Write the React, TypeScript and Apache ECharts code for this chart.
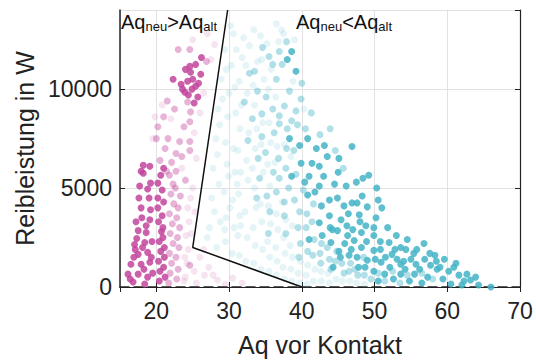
import React, { useEffect, useRef } from "react";
import * as echarts from "echarts";

// Aq vor Kontakt (x), Reibleistung in W (y)
const leftStrong: number[][] = [
  [16.1,650],[16.5,1150],[16.8,250],[17.0,2150],[17.5,1650],[17.5,650],[17.5,2850],[17.9,1150],[17.9,4000],[17.7,5100],
  [17.9,5850],[18.4,150],[18.4,2250],[18.6,2750],[18.8,500],[18.8,1750],[18.8,4950],[19.1,1250],[19.1,3400],[19.2,3900],
  [19.2,5250],[18.2,6150],[19.1,6100],[18.2,5750],[16.9,1500],[17.3,2450],[17.2,3300],[18.0,3500],[18.3,900],[16.4,400],
  [17.1,1900],[18.6,3100],[19.4,2300],[19.5,700],[19.0,4500],[17.6,4500],[19.3,1500],[18.1,2000],
  [20.2,5250],[20.2,4500],[20.2,4000],[21.0,6000],[20.6,5650],[20.4,300],[20.5,800],[20.3,1300],[20.6,1800],[20.4,2300],
  [20.7,2800],[20.3,3300],[20.8,3600],[21.0,1000],[21.1,2000],[20.9,3000],[21.0,4300],[20.8,4900],[21.2,500],[21.1,1500],[20.9,2500],
  [24.6,11150],[25.4,11250],[24.7,10850],[26.1,10750],[24.3,10400],[25.4,10150],[23.9,9850],[25.7,9600],[22.3,10500],[23.4,10250],
  [24.9,10000],[25.0,10500],[24.4,9700],[25.8,10300],[24.0,11000],[23.6,10000],[26.2,11600],[25.2,9300]
];
const leftMid: number[][] = [
  [20.2,8100],[22.5,9000],[24.3,9350],[24.7,8850],[24.6,8350],[21.6,7500],[23.2,7350],[24.6,7350],[21.2,7000],[22.7,6750],
  [24.6,6900],[21.8,5650],[22.7,5850],[21.4,5850],
  [21.7,200],[21.9,700],[22.1,1200],[21.8,1700],[22.3,2200],[21.9,2700],[22.2,3200],[21.8,3700],[22.4,4200],[22.0,4700],
  [22.3,5200],[22.8,400],[23.0,900],[22.7,1500],[23.1,2000],[22.9,2500],[23.2,3000],[22.8,3500],[23.0,4000],[23.3,4600],
  [22.6,5000],[24.6,1100],[26.9,11400],[24.6,12000],
  [20.0,7500],[21.0,8600],[23.8,8100],[22.1,6300],[23.5,6600],[24.0,5400],[21.5,9400],[23.0,12000],[20.5,6400]
];
const leftFaint: number[][] = [
  [24.0,500],[24.2,1200],[24.4,1900],[24.1,2600],[24.5,3300],[24.3,4000],[26.6,600],[28.4,350],[25.5,200],[27.2,1000],
  [29.5,150],[30.5,450],[31.8,200],[26.0,1500],[28.0,12250],[23.5,6000],[22.0,8500],[25.0,5000],[25.2,7800],[19.5,7500],
  [23.8,300],[23.9,1500],[24.8,2700],[25.2,800],[26.5,1900],[27.8,600],[24.7,4500],[25.3,3800],[25.5,6500],[26.0,8800],
  [26.5,9800],[27.5,11500],[27.0,12800],[25.0,12500],[20.8,9200],[19.8,8600]
];
const rightFaint: number[][] = [
  [27.3,3000],[27.6,4500],[27.8,6000],[28.2,7500],[28.5,9000],[28.9,10500],[29.4,12000],[28.6,5200],[28.0,3800],[27.0,2500],
  [29.5,2300],[29.6,3500],[29.3,4800],[29.7,6200],[29.5,7300],[29.8,8600],[30.0,9800],[30.3,11200],[30.6,12800],[29.9,5600],
  [30.1,4000],[29.4,2900],[31.4,1600],[31.2,2600],[31.5,3600],[31.3,4700],[31.6,5800],[31.2,6900],[31.5,8000],[31.7,9200],
  [31.4,10400],[31.8,11600],[32.0,12600],[31.6,3100],[31.1,5200],[33.4,1200],[33.6,2100],[33.3,3000],[33.7,4000],[33.5,5000],
  [33.2,6000],[33.6,7000],[33.8,8000],[33.4,13000],[33.5,9200],[33.3,10200],[33.9,11400],[35.5,800],[35.6,1500],[35.3,2300],
  [35.7,3200],[35.4,4100],[35.6,5100],[35.3,6200],[35.7,7300],[35.5,8300],[35.4,10000],[35.8,11000],[35.2,12300],[37.6,400],
  [37.4,1000],[37.7,1700],[37.5,2500],[37.8,3400],[37.3,4300],[37.6,7200],[37.5,12800],[39.7,200],[39.5,700],[39.8,1300],
  [41.6,300],[41.8,900],[43.8,200],[43.6,700],[45.6,300],[47.5,200],[40.0,13500],[36.5,13300],
  [28.3,2000],[28.8,3300],[28.4,6700],[28.7,8200],[29.1,9500],[29.6,11000],[30.2,13200],[30.4,1700],[30.7,3000],[30.5,4400],
  [30.8,5800],[30.6,7000],[30.9,8800],[30.8,10100],[31.0,12000],[32.3,1300],[32.5,2500],[32.2,3800],[32.6,5400],[32.4,6400],
  [32.7,7800],[32.5,9800],[32.3,11200],[32.8,12200],[34.4,900],[34.6,1900],[34.5,3300],[34.3,4200],[34.7,5800],[34.4,7200],
  [34.6,8300],[34.8,10500],[34.5,11500],[34.3,12700],[36.5,600],[36.6,1300],[36.4,2000],[36.7,2900],[36.5,3700],[36.3,6300],
  [36.6,7100],[36.4,9600],[36.8,12400],[38.6,300],[38.5,900],[38.7,1500],[38.4,2100],[38.7,3100],[38.5,6600],[38.8,10400],
  [37.2,13000],[40.7,150],[40.6,600],[40.8,1100],[42.7,300],[42.6,800],[44.7,400],[46.6,300],[48.6,150],[39.0,12500],[40.3,9000]
];
const rightMid: number[][] = [
  [36.9,11900],[35.5,11650],[37.3,11250],[36.0,11250],[33.5,10900],[34.6,12100],[33.9,9900],[38.3,9900],[39.9,9500],[35.1,9600],
  [36.5,10500],[32.1,9350],[37.6,9150],[39.2,8900],[36.0,9000],[34.5,8750],[36.9,8650],[33.2,8500],[38.6,8400],[36.9,8250],
  [34.5,7600],[36.2,7800],[35.0,6800],[36.8,6500],[37.9,7000],[34.2,5500],[36.1,5800],[36.9,5500],[37.8,6000],[35.2,4600],
  [36.5,4800],[37.6,4300],[38.2,5000],[39.0,4400],[39.7,3800],[39.5,3000],[39.8,2200],[39.6,1500],[41.4,3300],[41.7,2400],
  [41.5,1600],[41.6,4200],[43.8,1400],[43.5,2000],[44.0,900],[45.5,1200],[45.8,700],[47.3,900],[47.7,600],[49.5,400],
  [51.4,300],[53.5,200],[37.8,2700],[37.6,3600],[35.6,3800],[33.8,4500],[35.4,2700],[38.0,8000],[39.4,8200],[40.5,8000],
  [34.0,6500],[32.6,7400],[32.8,10800],
  [40.7,3700],[40.6,3000],[40.8,1800],[42.5,1700],[42.7,2200],[42.6,1200],[44.6,1300],[44.8,1800],[46.7,1200],[46.5,800],
  [48.6,600],[48.5,1500],[50.5,700],[52.5,800],[54.5,600],[56.5,700],[58.0,400],[41.3,8800],[42.5,7700],[40.0,10300],
  [37.9,12400],[38.9,6900],[40.2,4900],[39.2,5700],[44.6,6900],[45.7,6000],[43.9,8000]
];
const rightStrong: number[][] = [
  [38.6,11900],[38.0,11500],[39.2,10900],[38.3,7500],[39.7,7150],[40.8,7500],[42.0,7000],[43.1,7150],[43.5,6600],[39.9,6250],
  [41.4,6250],[42.4,6100],[38.6,5600],[41.0,5600],[42.4,5100],[40.8,4650],[43.8,4400],[42.7,4100],[43.8,3600],[42.4,3250],
  [44.2,2900],[42.8,2600],[41.0,2400],[44.0,2250],[46.9,7100],[45.1,6500],[49.2,5650],[46.1,5100],[44.9,4500],[45.8,4100],
  [46.9,4250],[47.6,4250],[49.0,4050],[47.9,3650],[50.2,3500],[45.4,3400],[48.8,3100],[46.2,3100],[49.9,3000],[44.9,2850],
  [48.2,2750],[49.9,2600],[47.2,2350],[52.0,2250],[54.3,1900],[56.8,2200],[52.4,1650],[49.9,1850],[48.2,2000],[49.0,1350],
  [50.9,1250],[53.6,1150],[55.7,1150],[57.7,1100],[58.6,900],[51.4,650],[53.6,650],[55.5,650],[57.3,500],
  [45.1,1800],[45.3,1500],[46.5,1600],[46.3,2600],[47.6,1500],[48.7,1000],[49.9,800],[50.8,1900],[52.1,1000],[53.1,1400],
  [54.2,900],[55.4,1700],[56.2,900],[57.6,1700],[59.0,1000],[60.2,800],[61.6,600],[62.7,650],[64.3,100],[66.0,0],
  [60.9,1000],[59.4,400],[58.5,1300],[54.8,300],[52.6,400],[50.5,300],[56.5,200],[60.5,150],[62.0,100],[63.2,350],
  [43.9,3000],[44.5,5200],[45.0,5800],[43.0,5600],[41.8,4800],[40.4,5300],[47.5,5300],[48.3,4600],[50.5,4400],[51.0,4000],
  [46.4,3700],[51.8,3000],[53.0,2600],[54.5,2400],[50.8,2300],[53.6,2000],[55.0,1400],[47.0,2900],[48.0,3300],
  [44.3,1000],[45.9,2200],[46.8,1900],[47.8,1000],[48.9,2300],[50.1,1400],[51.5,1500],[52.8,1900],[54.0,1300],[55.8,1900],
  [56.9,1400],[58.3,1600],[59.6,1400],[61.2,1200],[62.3,300],[63.9,500],[50.3,5000],[48.4,5500]
];
const boundary: number[][] = [[29.8,14000],[25,2000],[40,0]];
const xTicks = [20, 30, 40, 50, 60, 70];
const yTicks = [0, 5000, 10000];

const MAG = "#c2449c";
const CYN = "#44b4c7";
const FONT = "Liberation Sans, Arial, sans-serif";

export default function App() {
  const ref = useRef<HTMLDivElement>(null);
  useEffect(() => {
    if (!ref.current) return;
    const chart = echarts.init(ref.current, null, { renderer: "svg" });
    const sc = (data: number[][], color: string, op: number) => ({
      type: "scatter", data, symbolSize: 7,
      itemStyle: { color, opacity: op }, silent: true,
    });
    const baseX = {
      type: "value", min: 15, max: 70,
      axisTick: { inside: true, length: 5, lineStyle: { color: "#222" } },
    };
    const baseY = {
      type: "value", min: 0, max: 14000, interval: 5000,
      axisTick: { inside: true, length: 5, lineStyle: { color: "#222" } },
    };
    const rich = {
      m: { fontSize: 20, fill: "#111", fontFamily: FONT },
      s: { fontSize: 13, fill: "#111", fontFamily: FONT, padding: [9, 0, 0, 0] },
    };
    chart.setOption({
      animation: false,
      textStyle: { fontFamily: FONT },
      grid: { left: 120, right: 16, top: 10, bottom: 72 },
      xAxis: [
        {
          ...baseX, position: "bottom",
          name: "Aq vor Kontakt", nameLocation: "middle", nameGap: 45,
          nameTextStyle: { fontSize: 25, color: "#222", fontFamily: FONT },
          axisLine: { onZero: false, lineStyle: { color: "#222", width: 1.5, type: [9, 5] } },
          axisLabel: { fontSize: 23, color: "#222", margin: 12, showMinLabel: false, fontFamily: FONT,
            formatter: (v: number) => (xTicks.includes(v) ? String(v) : "") },
          splitLine: { show: true, lineStyle: { color: "#e2e2e2", width: 1 } },
        },
        {
          ...baseX, position: "top",
          axisLine: { lineStyle: { color: "#222", width: 1.2 } },
          axisLabel: { show: false }, splitLine: { show: false },
        },
      ],
      yAxis: [
        {
          ...baseY, position: "left",
          name: "Reibleistung in W", nameLocation: "middle", nameGap: 80,
          nameTextStyle: { fontSize: 25, color: "#222", fontFamily: FONT },
          axisLine: { show: true, lineStyle: { color: "#222", width: 1.5 } },
          axisLabel: { fontSize: 23, color: "#222", margin: 8, showMaxLabel: false, fontFamily: FONT,
            formatter: (v: number) => (yTicks.includes(v) ? String(v) : "") },
          splitLine: { show: true, lineStyle: { color: "#e2e2e2", width: 1 } },
        },
        {
          ...baseY, position: "right",
          axisLine: { show: true, lineStyle: { color: "#222", width: 1.2 } },
          axisLabel: { show: false }, splitLine: { show: false },
        },
      ],
      series: [
        sc(leftFaint, MAG, 0.14),
        sc(rightFaint, CYN, 0.14),
        sc(leftMid, MAG, 0.4),
        sc(rightMid, CYN, 0.42),
        sc(leftStrong, MAG, 0.85),
        sc(rightStrong, CYN, 0.85),
        {
          type: "line", data: boundary, symbol: "none", silent: true, z: 5,
          lineStyle: { color: "#111", width: 1.5 },
        },
      ],
      graphic: [
        {
          type: "text", left: 121, top: 12, z: 10,
          style: { text: "{m|Aq}{s|neu}{m|>Aq}{s|alt}", rich },
        },
        {
          type: "text", left: 296, top: 12, z: 10,
          style: { text: "{m|Aq}{s|neu}{m|<Aq}{s|alt}", rich },
        },
      ],
    });
    return () => chart.dispose();
  }, []);
  return <div ref={ref} style={{ width: 536, height: 362, position: "absolute", left: 0, top: 0, background: "#fff" }} />;
}
